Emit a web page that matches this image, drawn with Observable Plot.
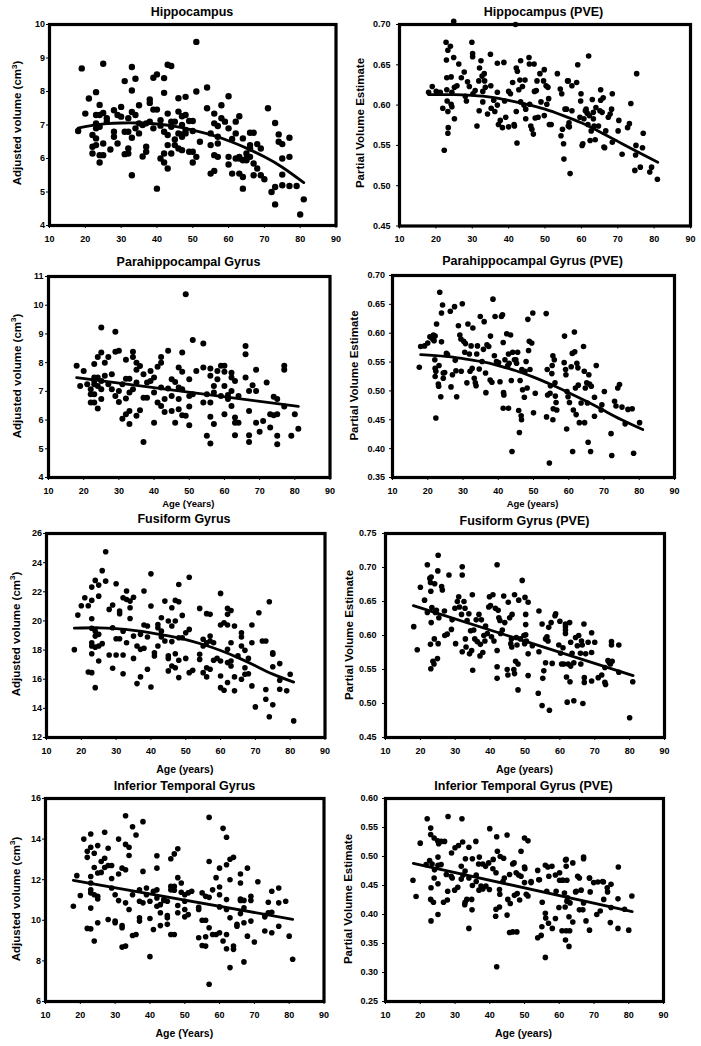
<!DOCTYPE html>
<html>
<head>
<meta charset="utf-8">
<script src="https://cdn.jsdelivr.net/npm/d3@7"></script>
<script src="https://cdn.jsdelivr.net/npm/@observablehq/plot@0.6"></script>
<style>
  html, body { margin: 0; padding: 0; background: #fff; }
  #page { position: relative; width: 701px; height: 1046px; overflow: hidden; background: #fff; }
  #page svg.overlay { position: absolute; left: 0; top: 0; pointer-events: none; }
</style>
</head>
<body>
<div id="page"></div>
<script>
// ---------------- DATA ----------------
const xTicks = [10, 20, 30, 40, 50, 60, 70, 80, 90];

// Hippocampus adjusted volume: [age, values...]
const hippoVol = [
  [18, 6.82], [19, 8.69], [20, 7.34], [21, 7.79],
  [22, 6.70, 6.35, 6.15], [23, 7.98, 7.30, 7.05, 6.90, 6.60, 6.40],
  [24, 7.60, 7.30, 6.95, 6.10, 5.88], [25, 8.83, 7.36, 6.45, 6.10],
  [26, 7.20, 7.10], [27, 6.27], [28, 7.44, 6.80, 6.65], [29, 7.30, 6.45],
  [30, 7.54, 7.25], [31, 8.31, 6.80, 6.13], [32, 7.20, 6.80, 6.30, 6.15],
  [33, 8.73, 8.03, 7.39, 6.62, 5.50], [34, 8.38, 7.30, 6.90], [35, 7.59, 7.05, 6.75],
  [36, 7.00, 6.06], [37, 7.05, 6.35, 6.20], [38, 7.76, 7.66, 7.10], [39, 8.41, 7.46, 6.90],
  [40, 8.51, 7.46, 5.10], [41, 7.14, 6.98, 6.00], [42, 8.40, 7.96, 6.80, 6.15, 5.88],
  [43, 8.80, 7.34, 6.70, 6.40, 5.70], [44, 8.76, 7.10, 6.95, 6.15], [45, 7.10, 6.57, 6.40],
  [46, 7.80, 7.40, 6.75, 6.30], [47, 7.26, 7.00, 6.72, 6.65, 6.25], [48, 7.84, 7.30, 6.85, 6.75],
  [49, 7.12, 6.20], [50, 7.12, 6.82, 6.20, 5.88], [51, 9.48, 8.00, 6.05], [52, 6.50],
  [54, 8.12, 7.50], [55, 6.75, 6.40, 5.55], [56, 7.34, 7.05, 6.10, 5.63],
  [57, 6.97, 6.65, 6.45, 6.05], [58, 7.59, 7.20], [59, 7.10], [60, 7.86, 6.90, 6.05, 5.82],
  [61, 6.58, 5.55], [62, 7.10, 6.75, 6.00], [63, 7.26, 6.05, 6.00, 5.55],
  [64, 6.60, 5.95, 5.45, 5.10], [65, 6.15, 6.00, 5.95], [66, 6.77, 6.40, 6.30, 6.05],
  [67, 6.77, 5.85, 5.50], [68, 6.43, 5.70], [69, 6.30, 5.50], [70, 5.38], [71, 7.50],
  [72, 5.00], [73, 7.06, 5.15, 4.63], [74, 6.72, 6.50], [75, 6.43, 6.00, 5.52, 5.20],
  [77, 6.62, 6.05, 5.18], [79, 5.18], [80, 4.33], [81, 4.78]
];
const hippoVolTrend = [[18, 6.91], [22, 6.99], [26, 7.04], [30, 7.06], [35, 7.06], [40, 7.03], [45, 6.96], [50, 6.85], [55, 6.71], [60, 6.53], [65, 6.31], [70, 6.05], [75, 5.74], [81, 5.28]];
const hippoVolTicks = [4, 5, 6, 7, 8, 9, 10];

// Hippocampus PVE: [age, value]
const hippoPve = [
  [18.0,0.616],[19.0,0.623],[20.1,0.617],[21.2,0.616],[21.9,0.596],[22.3,0.544],[22.8,0.678],[22.9,0.656],
  [23.0,0.634],[23.0,0.619],[23.1,0.605],[23.3,0.592],[23.3,0.565],[23.4,0.572],[23.3,0.668],[24.0,0.673],
  [24.2,0.635],[24.4,0.616],[24.4,0.598],[24.2,0.601],[24.9,0.704],[24.9,0.659],[25.1,0.622],[25.1,0.583],
  [25.8,0.624],[26.3,0.651],[27.0,0.634],[27.8,0.641],[28.1,0.611],[28.4,0.605],[28.7,0.629],[29.2,0.623],
  [29.9,0.678],[30.1,0.664],[30.1,0.660],[30.2,0.614],[30.8,0.618],[31.3,0.574],[31.8,0.630],[32.0,0.646],
  [31.9,0.593],[32.4,0.655],[32.7,0.636],[32.9,0.617],[32.9,0.604],[33.3,0.639],[33.4,0.630],[33.6,0.622],
  [34.2,0.589],[35.0,0.663],[35.1,0.624],[35.2,0.596],[35.9,0.606],[36.2,0.592],[36.9,0.652],[36.9,0.616],
  [36.9,0.600],[37.2,0.576],[37.7,0.581],[38.3,0.572],[38.7,0.653],[38.9,0.605],[39.2,0.585],[40.0,0.573],
  [40.0,0.617],[40.5,0.614],[41.1,0.628],[41.5,0.576],[41.6,0.574],[41.9,0.700],[42.1,0.646],[42.4,0.642],
  [42.1,0.592],[42.3,0.553],[42.8,0.619],[43.1,0.631],[43.3,0.655],[43.3,0.604],[43.8,0.623],[44.2,0.600],
  [44.5,0.631],[44.7,0.595],[44.7,0.583],[45.6,0.659],[45.7,0.651],[45.8,0.601],[46.1,0.574],[46.4,0.570],
  [46.8,0.564],[47.0,0.651],[47.1,0.617],[47.3,0.584],[47.6,0.618],[47.8,0.630],[48.1,0.585],[48.6,0.639],
  [48.9,0.604],[49.6,0.630],[49.8,0.644],[49.8,0.587],[50.3,0.624],[50.5,0.601],[50.8,0.622],[51.0,0.608],
  [51.2,0.576],[51.7,0.576],[53.4,0.639],[54.2,0.620],[54.4,0.562],[54.6,0.614],[54.8,0.570],[55.1,0.552],
  [55.2,0.533],[55.5,0.595],[55.9,0.595],[56.2,0.630],[56.4,0.630],[56.4,0.574],[56.6,0.578],[56.7,0.573],
  [56.9,0.515],[57.4,0.593],[57.4,0.624],[58.7,0.628],[59.0,0.650],[59.6,0.585],[59.8,0.605],[59.9,0.614],
  [60.2,0.550],[60.4,0.552],[60.7,0.583],[61.1,0.593],[61.3,0.595],[61.6,0.590],[61.8,0.576],[62.0,0.661],
  [62.2,0.587],[62.4,0.556],[62.7,0.568],[63.0,0.607],[63.3,0.591],[63.3,0.583],[63.5,0.574],[63.8,0.557],
  [64.0,0.597],[64.7,0.574],[65.1,0.593],[65.3,0.619],[65.3,0.606],[65.7,0.591],[66.0,0.609],[66.2,0.548],
  [66.4,0.547],[66.7,0.568],[67.4,0.585],[67.9,0.589],[68.3,0.595],[68.5,0.614],[68.5,0.554],[70.3,0.581],
  [70.1,0.568],[71.2,0.539],[72.7,0.572],[73.2,0.577],[73.6,0.602],[74.7,0.519],[74.9,0.538],[75.0,0.550],
  [75.2,0.639],[76.2,0.523],[77.0,0.565],[76.8,0.547],[78.8,0.517],[79.3,0.523],[80.9,0.508]
];
const hippoPveTrend = [[18, 0.613], [25, 0.613], [30, 0.612], [35, 0.610], [40, 0.606], [45, 0.601], [50, 0.595], [55, 0.587], [60, 0.578], [65, 0.567], [70, 0.555], [75, 0.543], [81, 0.529]];
const hippoPveTicks = [0.45, 0.50, 0.55, 0.60, 0.65, 0.70];

// Parahippocampal gyrus adjusted volume: [age, values...]
const paraVol = [
  [18, 7.89], [19, 7.19], [20, 7.71], [21, 7.25], [22, 7.07, 6.90, 6.61],
  [23, 7.95, 7.48, 7.36, 7.25, 6.90, 6.61], [24, 8.20, 7.48, 7.19, 6.40],
  [25, 9.22, 8.35, 7.36, 7.07, 6.73], [26, 8.00, 7.54], [27, 8.20, 7.25], [28, 7.60, 7.07],
  [29, 9.08, 8.38, 6.84], [30, 8.41, 7.01, 6.63], [31, 7.25, 6.05], [32, 8.10, 7.44, 6.75, 6.20],
  [33, 7.44, 6.96, 6.32, 5.86], [34, 8.38, 8.20, 7.07], [35, 8.00, 7.75, 7.31, 6.15],
  [36, 7.88, 6.34], [37, 7.60, 6.78, 5.24], [38, 7.31, 6.78], [39, 7.71, 7.36],
  [40, 7.48, 6.96, 5.91], [41, 7.86, 6.61], [42, 8.20, 8.00, 7.13, 6.49], [43, 6.73, 6.28],
  [44, 8.41, 7.10], [45, 7.42, 6.84, 6.32], [46, 7.33, 5.91], [47, 7.83, 7.13, 6.73, 6.38],
  [48, 8.35, 7.68, 7.07, 6.17], [49, 10.38, 6.15], [50, 7.42, 6.84, 6.47, 5.82], [51, 8.79, 6.90],
  [52, 7.71], [54, 8.67, 7.83, 6.61], [55, 6.90, 5.45], [56, 7.80, 7.54, 6.61, 6.12, 5.18],
  [57, 7.19, 6.96, 5.86], [58, 7.71, 7.42], [59, 7.89, 6.84], [60, 7.89, 7.68, 7.19, 6.20],
  [61, 6.87, 6.73], [62, 7.65, 7.48, 7.01, 6.49], [63, 7.36, 6.09, 5.91, 5.47], [64, 6.84, 5.91],
  [66, 8.58, 8.29, 7.48], [67, 7.01, 6.32, 5.47, 5.24], [68, 7.21], [69, 7.75, 7.01, 5.91],
  [70, 5.59], [71, 5.97], [72, 7.31], [73, 6.20, 5.74], [74, 6.81, 6.17],
  [75, 6.73, 6.20, 5.45, 5.16], [77, 7.89, 7.75, 6.47], [79, 5.45], [80, 6.20], [81, 5.70]
];
const paraVolTrend = [[18, 7.48], [81, 6.48]];
const paraVolTicks = [4, 5, 6, 7, 8, 9, 10, 11];

// Parahippocampal gyrus PVE: [age, value]
const paraPve = [
  [17.6,0.541],[18.0,0.577],[19.1,0.578],[20.0,0.583],[20.6,0.594],[21.0,0.593],[21.4,0.590],[21.6,0.597],
  [21.8,0.587],[22.1,0.595],[22.3,0.453],[22.5,0.616],[22.0,0.554],[22.1,0.525],[22.1,0.539],[22.3,0.534],
  [23.0,0.512],[23.1,0.508],[23.2,0.544],[23.4,0.671],[23.7,0.490],[23.9,0.635],[24.2,0.649],[23.9,0.585],
  [24.4,0.531],[24.4,0.522],[24.8,0.532],[25.3,0.565],[25.6,0.563],[26.4,0.638],[26.6,0.507],[27.0,0.528],
  [27.6,0.646],[27.8,0.553],[28.0,0.535],[28.2,0.490],[28.7,0.613],[29.1,0.597],[29.4,0.590],[29.5,0.534],
  [29.8,0.651],[30.2,0.586],[30.5,0.567],[30.7,0.582],[31.1,0.514],[31.4,0.616],[31.8,0.564],[32.0,0.534],
  [32.3,0.578],[32.6,0.539],[32.8,0.609],[33.2,0.522],[33.5,0.514],[33.7,0.509],[33.9,0.564],[34.1,0.578],
  [34.6,0.538],[34.9,0.629],[35.4,0.551],[35.8,0.572],[36.0,0.620],[36.4,0.531],[36.5,0.497],[36.8,0.580],
  [37.3,0.577],[37.7,0.519],[37.8,0.595],[38.2,0.515],[38.5,0.659],[38.9,0.561],[39.1,0.629],[39.5,0.551],
  [40.1,0.549],[40.5,0.516],[40.9,0.629],[41.2,0.632],[41.4,0.584],[41.5,0.497],[41.6,0.493],[41.4,0.470],
  [41.9,0.554],[42.4,0.599],[42.7,0.544],[42.9,0.564],[42.9,0.470],[43.1,0.548],[43.5,0.597],[43.7,0.518],
  [43.9,0.395],[44.1,0.567],[44.6,0.554],[45.0,0.554],[45.2,0.548],[45.5,0.567],[45.8,0.466],[46.0,0.428],
  [46.2,0.518],[46.5,0.457],[46.6,0.450],[46.7,0.537],[46.9,0.502],[47.4,0.489],[47.6,0.534],[47.9,0.551],
  [48.2,0.505],[48.4,0.624],[48.6,0.570],[48.8,0.586],[49.0,0.537],[49.5,0.583],[49.8,0.635],[50.0,0.462],
  [50.5,0.496],[53.6,0.634],[53.9,0.537],[53.7,0.455],[54.0,0.493],[54.5,0.375],[54.7,0.496],[54.8,0.509],
  [55.2,0.530],[55.3,0.544],[55.5,0.450],[55.5,0.561],[55.6,0.469],[55.9,0.554],[56.1,0.514],[56.2,0.491],
  [56.4,0.480],[56.6,0.467],[58.8,0.595],[58.7,0.549],[59.1,0.537],[59.2,0.528],[59.4,0.434],[59.5,0.499],
  [59.8,0.490],[60.2,0.480],[60.7,0.542],[61.0,0.565],[61.1,0.395],[61.3,0.467],[61.6,0.602],[61.7,0.568],
  [61.9,0.505],[62.1,0.459],[62.3,0.548],[62.6,0.540],[62.7,0.510],[63.0,0.445],[63.5,0.479],[64.2,0.577],
  [64.4,0.534],[64.5,0.445],[64.7,0.505],[65.1,0.514],[65.3,0.479],[65.5,0.411],[65.7,0.528],[65.9,0.512],
  [66.2,0.395],[66.4,0.508],[67.3,0.456],[67.3,0.489],[67.8,0.544],[69.2,0.467],[69.4,0.476],[70.1,0.499],
  [72.0,0.426],[72.2,0.388],[73.0,0.482],[73.4,0.474],[73.9,0.505],[74.4,0.511],[75.1,0.472],[76.0,0.443],
  [76.8,0.468],[78.0,0.469],[78.4,0.392],[80.1,0.445]
];
const paraPveTrend = [[18, 0.563], [25, 0.560], [30, 0.556], [35, 0.551], [40, 0.544], [45, 0.535], [50, 0.524], [55, 0.511], [60, 0.497], [65, 0.482], [70, 0.466], [75, 0.450], [81, 0.433]];
const paraPveTicks = [0.35, 0.40, 0.45, 0.50, 0.55, 0.60, 0.65, 0.70];

// Fusiform gyrus adjusted volume: [age, values...]
const fusiVol = [
  [18, 18.03], [19, 20.40], [20, 21.04], [21, 21.59], [22, 21.04, 16.50],
  [23, 22.32, 21.41, 20.15, 19.50, 18.50, 18.28, 17.75, 16.45], [24, 22.78, 19.30, 18.96, 18.20, 15.42],
  [25, 22.46, 21.70, 19.08, 18.28, 17.25], [26, 23.45, 18.44], [27, 24.75, 22.73], [28, 20.79, 17.66],
  [29, 21.09, 19.53, 16.75], [30, 22.55, 18.78, 17.66], [31, 20.68, 20.50, 18.78],
  [32, 21.59, 19.30, 17.66, 16.38], [33, 22.05, 21.47, 18.50], [34, 21.36, 20.90, 20.17],
  [35, 21.63, 18.96, 17.43], [36, 18.28, 15.70], [37, 19.08, 18.05, 16.16], [38, 22.05, 19.72, 18.12],
  [39, 19.65, 18.90, 16.68], [40, 23.23, 21.02, 15.47], [41, 17.82, 17.60], [42, 19.76, 19.53, 18.28],
  [43, 20.22, 19.30, 18.90], [44, 21.36, 18.62], [45, 19.99, 17.60, 17.43, 16.57],
  [46, 20.90, 19.65, 18.58, 16.91], [47, 21.41, 19.99, 17.75, 16.79], [48, 22.50, 21.32, 18.85, 17.30, 16.11],
  [49, 20.38, 18.85], [50, 19.19, 17.43], [51, 23.00, 19.42, 16.45], [52, 16.61],
  [54, 20.86, 17.71, 17.36], [55, 18.74, 18.28, 16.45], [56, 20.50, 18.50, 16.79, 16.16],
  [57, 20.45, 18.96, 18.62, 16.68], [58, 18.50, 17.30], [59, 17.43], [60, 21.89, 19.72, 17.25, 16.22, 15.42],
  [61, 19.88, 15.24], [62, 20.86, 20.45, 19.72, 18.05, 17.14, 15.77], [63, 20.72, 18.50, 17.25, 16.91],
  [64, 19.65, 16.16, 15.20], [65, 17.60], [66, 19.19, 18.90, 18.28, 16.00], [67, 17.98, 16.79, 16.34],
  [68, 17.43, 16.38], [69, 19.72, 18.50, 15.54], [70, 14.10], [71, 20.56], [72, 18.62],
  [73, 18.62, 15.29, 14.63], [74, 21.32, 13.42], [75, 17.82, 17.71, 16.86, 14.24],
  [77, 17.07, 15.93, 15.31], [79, 15.20], [80, 16.34], [81, 13.14]
];
const fusiVolTrend = [[18, 19.50], [25, 19.53], [30, 19.47], [35, 19.35], [40, 19.18], [45, 18.97], [50, 18.72], [55, 18.38], [60, 17.97], [65, 17.48], [70, 16.92], [75, 16.35], [81, 15.80]];
const fusiVolTicks = [12, 14, 16, 18, 20, 22, 24, 26];

// Fusiform gyrus PVE: [age, value]
const fusiPve = [
  [25.1,0.718],[22.0,0.704],[32.0,0.701],[42.0,0.704],[49.2,0.681],[23.1,0.686],[28.2,0.689],[32.0,0.689],
  [25.0,0.695],[20.0,0.671],[26.1,0.672],
  [18.1,0.613],[19.1,0.579],[21.2,0.652],[22.0,0.634],[22.7,0.684],[22.9,0.678],[23.0,0.665],[23.1,0.619],
  [23.3,0.641],[22.9,0.587],[23.0,0.551],[23.6,0.562],[23.9,0.558],[24.1,0.676],[24.0,0.595],[24.3,0.634],
  [24.6,0.637],[24.9,0.566],[25.1,0.588],[25.3,0.626],[26.3,0.667],[26.9,0.636],[27.0,0.600],[27.7,0.602],
  [28.9,0.609],[29.1,0.623],[29.9,0.640],[30.1,0.588],[30.6,0.650],[31.0,0.657],[31.2,0.642],[31.8,0.631],
  [32.0,0.576],[32.5,0.650],[32.8,0.640],[32.9,0.595],[33.1,0.583],[33.4,0.622],[33.9,0.632],[34.1,0.573],
  [34.4,0.607],[34.7,0.578],[34.9,0.660],[35.0,0.549],[35.3,0.608],[35.6,0.595],[36.0,0.623],[36.3,0.591],
  [36.8,0.631],[37.1,0.570],[37.2,0.587],[37.5,0.623],[37.9,0.575],[38.2,0.600],[38.5,0.592],[38.7,0.614],
  [39.2,0.603],[39.6,0.642],[39.8,0.657],[40.1,0.644],[40.4,0.598],[40.8,0.660],[41.1,0.592],[41.5,0.640],
  [42.0,0.578],[42.0,0.554],[42.0,0.537],[42.3,0.637],[42.5,0.626],[42.8,0.622],[43.0,0.603],[43.5,0.608],
  [43.9,0.658],[44.2,0.619],[44.9,0.550],[45.1,0.542],[45.2,0.649],[45.6,0.626],[45.9,0.588],[46.1,0.595],
  [46.2,0.583],[46.3,0.631],[46.8,0.550],[47.0,0.544],[47.0,0.660],[47.3,0.562],[47.5,0.597],[47.7,0.586],
  [48.0,0.520],[48.0,0.558],[48.2,0.652],[48.7,0.595],[49.7,0.600],[49.9,0.588],[50.0,0.656],[50.2,0.631],
  [50.2,0.616],[50.2,0.601],[50.4,0.592],[50.9,0.573],[50.9,0.541],[50.9,0.649],[52.1,0.585],[53.8,0.515],
  [54.0,0.636],[54.0,0.576],[54.9,0.617],[54.9,0.497],[55.1,0.537],[55.4,0.548],[55.9,0.560],[55.9,0.595],
  [56.3,0.598],[56.6,0.592],[56.8,0.612],[57.0,0.490],[57.5,0.619],[57.8,0.559],[58.6,0.629],[58.8,0.632],
  [59.7,0.586],[60.0,0.621],[60.2,0.574],[60.5,0.558],[60.9,0.582],[61.1,0.558],[61.6,0.613],[61.6,0.608],
  [61.6,0.617],[61.6,0.603],[61.9,0.539],[62.1,0.502],[62.4,0.558],[62.8,0.619],[62.9,0.532],[63.1,0.590],
  [63.1,0.555],[63.5,0.574],[64.0,0.560],[64.0,0.504],[64.5,0.597],[65.0,0.585],[65.4,0.600],[65.9,0.574],
  [66.0,0.558],[66.2,0.592],[66.4,0.586],[66.6,0.500],[66.9,0.617],[67.0,0.538],[67.0,0.531],[67.4,0.573],
  [68.1,0.590],[69.1,0.575],[69.1,0.533],[69.1,0.604],[70.0,0.590],[71.0,0.538],[72.0,0.542],[72.9,0.553],
  [72.9,0.531],[73.1,0.528],[73.8,0.563],[74.2,0.560],[74.5,0.558],[74.8,0.586],[74.8,0.591],[75.0,0.562],
  [76.9,0.546],[76.9,0.586],[80.0,0.479],[80.9,0.532]
];
const fusiPveTrend = [[18, 0.644], [81, 0.541]];
const fusiPveTicks = [0.45, 0.50, 0.55, 0.60, 0.65, 0.70, 0.75];

// Inferior temporal gyrus adjusted volume: [age, values...]
const itgVol = [
  [18, 10.69], [19, 12.20], [20, 11.22], [21, 14.00], [22, 13.40, 13.10, 9.60],
  [23, 14.25, 13.60, 12.16, 11.84, 11.50, 11.35, 10.60, 9.58], [24, 13.30, 12.60, 11.26, 8.98],
  [25, 13.68, 12.33, 11.18, 11.05, 9.88], [26, 12.90, 12.36], [27, 14.34, 13.06, 12.60],
  [28, 13.55, 12.70, 10.04], [29, 12.70, 12.06, 11.59], [30, 11.26, 9.96, 9.88],
  [31, 14.00, 12.28, 10.97], [32, 12.57, 9.74, 9.63, 8.68], [33, 15.15, 13.74, 12.49, 10.86, 8.73],
  [34, 13.60, 13.19, 10.53], [35, 14.61, 11.26, 9.25], [36, 14.20, 9.30], [37, 11.50, 10.94, 10.12, 9.96],
  [38, 14.86, 12.41, 10.86], [39, 11.59, 11.26], [40, 10.94, 10.09, 8.21], [41, 11.43, 9.55],
  [42, 13.18, 12.57, 11.50, 11.10, 10.69], [43, 10.77, 10.37, 9.74], [44, 11.02, 10.98],
  [45, 10.94, 10.24, 10.12, 9.80], [46, 13.03, 11.67, 11.50, 9.30], [47, 13.27, 11.67, 11.48, 9.30],
  [48, 13.52, 12.10, 10.73, 10.37], [49, 11.84, 11.38], [50, 11.26, 10.94, 10.53, 10.17],
  [51, 11.35, 10.28], [52, 11.43], [54, 10.64, 10.53, 9.14], [55, 11.35, 10.00, 8.76],
  [56, 11.18, 10.00, 9.19, 8.73], [57, 15.07, 12.90, 11.13, 9.63, 6.85], [58, 11.50, 9.30],
  [59, 12.10, 9.30], [60, 12.57, 11.64, 11.26, 10.66, 9.39], [61, 14.53, 8.98],
  [62, 14.09, 12.74, 11.02, 10.53, 9.30, 8.60], [63, 13.01, 12.00, 10.12, 7.67], [64, 13.10, 8.73, 8.57],
  [65, 9.80, 9.71], [66, 12.28, 11.84, 11.05, 10.98, 10.33], [67, 10.98, 10.61, 9.88, 7.95],
  [68, 12.57, 9.22], [69, 11.18, 10.98, 9.96], [70, 8.93], [71, 11.90], [73, 10.24, 10.17, 9.47],
  [74, 10.89, 10.37], [75, 11.43, 10.40, 9.39], [77, 11.59, 10.86, 9.71], [79, 10.94], [80, 9.22], [81, 8.08]
];
const itgVolTrend = [[18, 11.97], [81, 10.05]];
const itgVolTicks = [6, 8, 10, 12, 14, 16];

// Inferior temporal gyrus PVE: [age, value]
const itgPve = [
  [22.0,0.565],[23.0,0.549],[23.0,0.538],[28.0,0.569],[32.0,0.565],[20.0,0.523],[24.0,0.532],[25.0,0.527],
  [25.3,0.522],[26.0,0.526],[27.0,0.526],[25.1,0.499],[29.0,0.506],[30.0,0.515],[31.0,0.519],[32.2,0.525],
  [34.0,0.516],[36.0,0.526],[33.0,0.496],[35.0,0.496],[37.0,0.499],[40.0,0.548],[42.0,0.534],[45.0,0.537],
  [42.2,0.509],[43.0,0.500],[44.0,0.497],[50.0,0.532],[51.0,0.527],[49.0,0.509],[67.0,0.496],[62.0,0.495],
  [77.0,0.482],[41.0,0.495],[47.0,0.489],
  [21.7,0.486],[22.7,0.493],[23.4,0.487],[24.1,0.477],[25.1,0.485],[26.0,0.486],[27.5,0.469],[28.9,0.466],
  [31.8,0.483],[32.3,0.468],[32.9,0.475],[34.0,0.463],[36.1,0.468],[36.8,0.487],[38.0,0.487],[38.8,0.483],
  [39.7,0.489],[40.9,0.479],[41.8,0.472],[44.2,0.463],[45.7,0.469],[46.6,0.487],[47.6,0.472],[48.3,0.468],
  [50.0,0.482],[50.1,0.479],[51.9,0.457],[53.8,0.476],[54.3,0.460],[56.0,0.485],[56.7,0.482],[57.9,0.483],
  [58.9,0.468],[60.1,0.472],[61.0,0.459],[61.8,0.494],[62.0,0.483],[62.2,0.459],[63.9,0.489],[65.8,0.463],
  [67.0,0.499],[68.7,0.463],[71.1,0.456],[72.5,0.457],
  [17.9,0.459],[18.8,0.431],[23.0,0.426],[23.1,0.446],[23.1,0.389],[23.8,0.421],[25.1,0.400],[25.1,0.453],
  [24.0,0.463],[26.7,0.421],[27.9,0.440],[27.8,0.425],[29.2,0.463],[29.9,0.442],[30.8,0.447],[31.8,0.461],
  [32.8,0.417],[32.9,0.421],[33.4,0.426],[34.0,0.376],[34.8,0.426],[34.9,0.408],[35.0,0.450],[36.1,0.457],
  [36.9,0.442],[37.5,0.449],[38.0,0.444],[38.9,0.449],[39.9,0.443],[41.7,0.397],[41.8,0.409],[42.0,0.310],
  [42.8,0.413],[42.8,0.443],[42.9,0.435],[43.8,0.457],[45.0,0.399],[45.2,0.426],[45.7,0.369],[45.9,0.419],
  [46.6,0.370],[47.1,0.433],[47.8,0.370],[47.9,0.436],[48.6,0.425],[49.0,0.466],[50.0,0.455],[50.5,0.435],
  [51.0,0.432],[51.9,0.455],[53.8,0.360],[54.1,0.460],[54.8,0.364],[55.0,0.379],[55.1,0.421],[56.0,0.402],
  [56.1,0.394],[56.0,0.326],[56.4,0.440],[56.9,0.385],[57.0,0.466],[58.0,0.376],[58.9,0.393],[59.1,0.440],
  [59.9,0.412],[60.1,0.459],[60.8,0.372],[61.0,0.459],[61.5,0.437],[61.7,0.413],[61.8,0.356],[62.0,0.372],
  [62.2,0.423],[62.4,0.429],[62.8,0.396],[62.8,0.345],[63.0,0.372],[63.1,0.420],[63.9,0.387],[64.7,0.439],
  [64.9,0.440],[65.3,0.466],[65.8,0.408],[66.3,0.442],[66.8,0.408],[67.0,0.420],[67.7,0.389],[68.7,0.463],
  [68.7,0.373],[68.9,0.439],[69.9,0.455],[70.8,0.400],[71.8,0.406],[72.7,0.456],[72.8,0.426],[73.8,0.446],
  [73.9,0.439],[74.7,0.386],[74.9,0.452],[74.9,0.412],[76.9,0.427],[76.9,0.376],[78.8,0.409],[80.0,0.373],
  [80.9,0.432]
];
const itgPveTrend = [[18, 0.488], [81, 0.405]];
const itgPveTicks = [0.25, 0.30, 0.35, 0.40, 0.45, 0.50, 0.55, 0.60];

// Text content
const titles = ["Hippocampus", "Hippocampus (PVE)", "Parahippocampal Gyrus", "Parahippocampal Gyrus (PVE)",
  "Fusiform Gyrus", "Fusiform Gyrus (PVE)", "Inferior Temporal Gyrus", "Inferior Temporal Gyrus (PVE)"];
const volLabel = "Adjusted volume (cm";
const pveLabel = "Partial Volume Estimate";
const ageLabels = ["Age (Years)", "Age (years)", "Age (years)", "Age (years)", "Age (Years)", "Age (years)"];

// ---------------- DRAWING ----------------
const flat = rows => rows.flatMap(([a, ...vs]) => vs.map(v => ({x: a, y: v})));
const pairs = arr => arr.map(([a, v]) => ({x: a, y: v}));
const fmt2 = d3.format(".2f");
const page = document.getElementById("page");
const FONT = "'Liberation Sans', Arial, Helvetica, sans-serif";

// frame placement: [x0, x1, y0, y1]
const panels = [
  {pts: flat(hippoVol), trend: hippoVolTrend, ticks: hippoVolTicks, fmt: d3.format("d"), box: [48.5, 335, 24, 225], r: 3.2, pad: 1.5, curve: "natural"},
  {pts: pairs(hippoPve), trend: hippoPveTrend, ticks: hippoPveTicks, fmt: fmt2, box: [398.5, 689.5, 23.5, 225], r: 2.8, pad: 6, curve: "natural"},
  {pts: flat(paraVol), trend: paraVolTrend, ticks: paraVolTicks, fmt: d3.format("d"), box: [47.5, 329, 276, 477], r: 3.0, pad: 2, curve: "linear"},
  {pts: pairs(paraPve), trend: paraPveTrend, ticks: paraPveTicks, fmt: fmt2, box: [391.5, 673.5, 274.5, 476.5], r: 2.8, pad: 4.5, curve: "natural"},
  {pts: flat(fusiVol), trend: fusiVolTrend, ticks: fusiVolTicks, fmt: d3.format("d"), box: [45.5, 324, 533, 737], r: 2.8, pad: 1.5, curve: "natural"},
  {pts: pairs(fusiPve), trend: fusiPveTrend, ticks: fusiPveTicks, fmt: fmt2, box: [385, 664, 533, 737], r: 2.8, pad: 6, curve: "linear"},
  {pts: flat(itgVol), trend: itgVolTrend, ticks: itgVolTicks, fmt: d3.format("d"), box: [45, 323.5, 798, 1001], r: 2.8, pad: 1.5, curve: "linear"},
  {pts: pairs(itgPve), trend: itgPveTrend, ticks: itgPveTicks, fmt: fmt2, box: [384.5, 662.5, 798, 1001], r: 2.8, pad: 4.5, curve: "linear"}
];

const mL = 40, mR = 8, mT = 8, mB = 22;
for (const p of panels) {
  const [x0, x1, y0, y1] = p.box;
  const ticks = p.ticks;
  const chart = Plot.plot({
    width: (x1 - x0) + mL + mR,
    height: (y1 - y0) + mT + mB,
    marginLeft: mL, marginRight: mR, marginTop: mT, marginBottom: mB,
    style: {fontFamily: FONT, fontSize: "9px", fontWeight: "bold", color: "black", background: "none", overflow: "visible"},
    x: {domain: [10, 90], ticks: xTicks, tickSize: 3, tickPadding: 7, label: null},
    y: {domain: [ticks[0], ticks[ticks.length - 1]], ticks: ticks, tickSize: 3, tickPadding: p.pad, tickFormat: p.fmt, label: null},
    marks: [
      Plot.frame({stroke: "black", strokeWidth: 3.2}),
      Plot.dot(p.pts, {x: "x", y: "y", r: p.r, fill: "black", stroke: "none"}),
      Plot.line(p.trend.map(([a, v]) => ({x: a, y: v})), {x: "x", y: "y", curve: p.curve, stroke: "black", strokeWidth: 2.8})
    ]
  });
  chart.style.position = "absolute";
  chart.style.left = (x0 - mL) + "px";
  chart.style.top = (y0 - mT) + "px";
  page.appendChild(chart);
}

// Text overlay (titles, axis labels)
const NS = "http://www.w3.org/2000/svg";
const ov = document.createElementNS(NS, "svg");
ov.setAttribute("class", "overlay");
ov.setAttribute("width", 701);
ov.setAttribute("height", 1046);
ov.style.fontFamily = FONT;
ov.style.fontWeight = "bold";
page.appendChild(ov);

function txt(s, x, y, size) {
  const t = document.createElementNS(NS, "text");
  t.setAttribute("x", x); t.setAttribute("y", y);
  t.setAttribute("text-anchor", "middle");
  t.setAttribute("font-size", size);
  t.setAttribute("fill", "black");
  t.textContent = s;
  ov.appendChild(t);
  return t;
}
function ylabel(kind, cx, cy) {
  const g = document.createElementNS(NS, "g");
  g.setAttribute("transform", `translate(${cx},${cy}) rotate(-90)`);
  const t = document.createElementNS(NS, "text");
  t.setAttribute("x", 0); t.setAttribute("y", 4);
  t.setAttribute("text-anchor", "middle");
  t.setAttribute("font-size", 11.5);
  t.setAttribute("fill", "black");
  if (kind === "vol") {
    t.appendChild(document.createTextNode(volLabel));
    const s = document.createElementNS(NS, "tspan");
    s.setAttribute("font-size", 8); s.setAttribute("dy", -4.5); s.textContent = "3";
    t.appendChild(s);
    const c = document.createElementNS(NS, "tspan");
    c.setAttribute("dy", 4.5); c.textContent = ")";
    t.appendChild(c);
  } else {
    t.textContent = pveLabel;
  }
  g.appendChild(t);
  ov.appendChild(g);
}

// titles
const titlePos = [[192, 16], [543.5, 16], [188.5, 266], [532.5, 265], [184, 523], [524.5, 525], [184.5, 789.5], [523.5, 789.5]];
titles.forEach((s, i) => txt(s, titlePos[i][0], titlePos[i][1], 12.5));

// x axis labels (row 2 ones squeezed between tick labels and next titles)
const agePos = [[188.3, 506.5, 9.5], [532.5, 507, 9.5], [184.8, 772.5, 10.5], [524.5, 772.5, 10.5], [184.3, 1036.5, 10.5], [523.5, 1036.5, 10.5]];
ageLabels.forEach((s, i) => txt(s, agePos[i][0], agePos[i][1], agePos[i][2]));

// y axis labels
ylabel("vol", 17.3, 123);
ylabel("pve", 360, 123);
ylabel("vol", 16.7, 376);
ylabel("pve", 354.3, 375.5);
ylabel("vol", 15.8, 634);
ylabel("pve", 349, 635);
ylabel("vol", 15.8, 899);
ylabel("pve", 348, 899);
</script>
</body>
</html>
